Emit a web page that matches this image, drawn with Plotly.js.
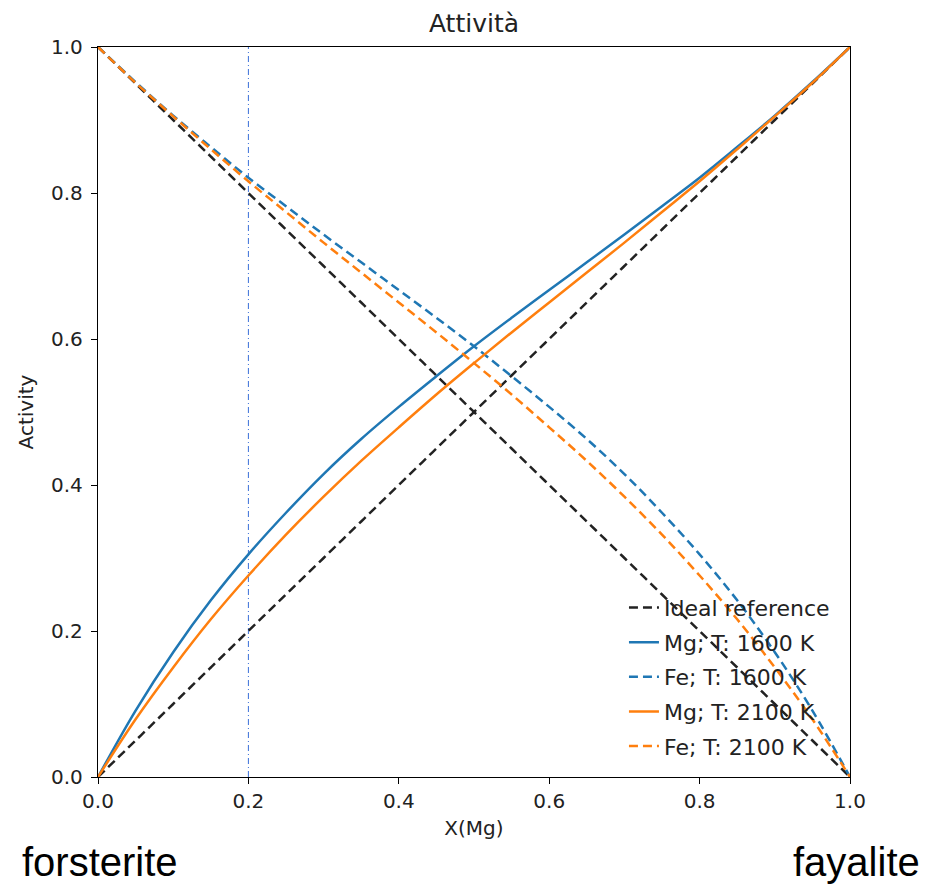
<!DOCTYPE html>
<html>
<head>
<meta charset="utf-8">
<script src="https://cdn.plot.ly/plotly-3.0.1.min.js"></script>
<style>html,body{margin:0;padding:0;background:#fff;}#chart{width:927px;height:888px;}</style>
</head>
<body>
<div id="chart"></div>
<script>
const xMg = [0, 0.05, 0.1, 0.15, 0.2, 0.25, 0.3, 0.35, 0.4, 0.45, 0.5, 0.55, 0.6, 0.65, 0.7, 0.75, 0.8, 0.85, 0.9, 0.95, 1.0];
const idealMg = [0, 0.05, 0.1, 0.15, 0.2, 0.25, 0.3, 0.35, 0.4, 0.45, 0.5, 0.55, 0.6, 0.65, 0.7, 0.75, 0.8, 0.85, 0.9, 0.95, 1.0];
const idealFe = [1.0, 0.95, 0.9, 0.85, 0.8, 0.75, 0.7, 0.65, 0.6, 0.55, 0.5, 0.45, 0.4, 0.35, 0.3, 0.25, 0.2, 0.15, 0.1, 0.05, 0];
const mg1600 = [0, 0.091, 0.171, 0.242, 0.305, 0.362, 0.415, 0.463, 0.507, 0.549, 0.590, 0.629, 0.667, 0.705, 0.743, 0.782, 0.821, 0.863, 0.906, 0.952, 1.0];
const fe1600 = [1.0, 0.952, 0.906, 0.863, 0.821, 0.782, 0.743, 0.705, 0.667, 0.629, 0.590, 0.549, 0.507, 0.463, 0.415, 0.362, 0.305, 0.242, 0.171, 0.091, 0];
const mg2100 = [0, 0.079, 0.150, 0.216, 0.276, 0.332, 0.384, 0.433, 0.479, 0.524, 0.567, 0.609, 0.650, 0.691, 0.732, 0.774, 0.816, 0.860, 0.905, 0.951, 1.0];
const fe2100 = [1.0, 0.951, 0.905, 0.860, 0.816, 0.774, 0.732, 0.691, 0.650, 0.609, 0.567, 0.524, 0.479, 0.433, 0.384, 0.332, 0.276, 0.216, 0.150, 0.079, 0];
const markX = [0.2, 0.2];
const markY = [0, 1];
const tickVals = [0, 0.2, 0.4, 0.6, 0.8, 1.0];
const tickText = ["0.0", "0.2", "0.4", "0.6", "0.8", "1.0"];
const seriesNames = ['Ideal reference', 'Mg; T: 1600 K', 'Fe; T: 1600 K', 'Mg; T: 2100 K', 'Fe; T: 2100 K'];

const blue = '#1f77b4', orange = '#ff7f0e', black = '#222222';
const W = 2.5;
const DASH = '9px,5px';
const traces = [
  {x: markX, y: markY, mode: 'lines', line: {color: '#3a6fd8', width: 1, dash: '6px,3px,1px,3px'}, showlegend: false, hoverinfo: 'skip'},
  {x: xMg, y: idealMg, mode: 'lines', line: {color: black, width: W, dash: DASH}, name: seriesNames[0], legendgroup: 'g0'},
  {x: xMg, y: idealFe, mode: 'lines', line: {color: black, width: W, dash: DASH}, name: seriesNames[0], showlegend: false, legendgroup: 'g0'},
  {x: xMg, y: mg1600, mode: 'lines', line: {color: blue, width: W}, name: seriesNames[1], legendgroup: 'g1'},
  {x: xMg, y: fe1600, mode: 'lines', line: {color: blue, width: W, dash: DASH}, name: seriesNames[2], legendgroup: 'g2'},
  {x: xMg, y: mg2100, mode: 'lines', line: {color: orange, width: W}, name: seriesNames[3], legendgroup: 'g3'},
  {x: xMg, y: fe2100, mode: 'lines', line: {color: orange, width: W, dash: DASH}, name: seriesNames[4], legendgroup: 'g4'}
];
traces.forEach((t, i) => { if (i > 0) t.line.shape = 'spline'; });

const FONT = 'DejaVu Sans';
const axisCommon = {
  range: [0, 1], showgrid: false, zeroline: false, showline: true, linecolor: '#000', linewidth: 1.3,
  mirror: true, ticks: 'outside', ticklen: 6, tickwidth: 1.3, tickcolor: '#000',
  tickvals: tickVals, ticktext: tickText, tickfont: {family: FONT, size: 20, color: '#222'}
};
const layout = {
  width: 927, height: 888,
  margin: {l: 98, r: 77, t: 47, b: 111},
  paper_bgcolor: '#fff', plot_bgcolor: '#fff',
  title: {text: 'Attività', font: {family: FONT, size: 25, color: '#222'}, x: (98 + 850) / 2 / 927, xanchor: 'center', y: 1 - 23 / 888, yanchor: 'middle'},
  xaxis: Object.assign({}, axisCommon, {title: {text: 'X(Mg)', font: {family: FONT, size: 20, color: '#222'}, standoff: 8}}),
  yaxis: Object.assign({}, axisCommon, {ticklabelstandoff: 4, title: {text: 'Activity', font: {family: FONT, size: 20, color: '#222'}, standoff: 12}}),
  showlegend: true,
  legend: {x: 0.980, y: 0.014, xanchor: 'right', yanchor: 'bottom', bgcolor: 'rgba(0,0,0,0)', borderwidth: 0,
    font: {family: FONT, size: 22, color: '#222'}, tracegroupgap: 3, traceorder: 'grouped'},
  annotations: [
    {text: 'forsterite', xref: 'paper', yref: 'paper', x: -0.104, y: -0.1164, xanchor: 'left', yanchor: 'middle', showarrow: false,
      font: {family: 'Liberation Sans', size: 40, color: '#000'}},
    {text: 'fayalite', xref: 'paper', yref: 'paper', x: 1.0957, y: -0.1164, xanchor: 'right', yanchor: 'middle', showarrow: false,
      font: {family: 'Liberation Sans', size: 40, color: '#000'}}
  ]
};
Plotly.newPlot('chart', traces, layout, {displayModeBar: false, responsive: false});
</script>
</body>
</html>
